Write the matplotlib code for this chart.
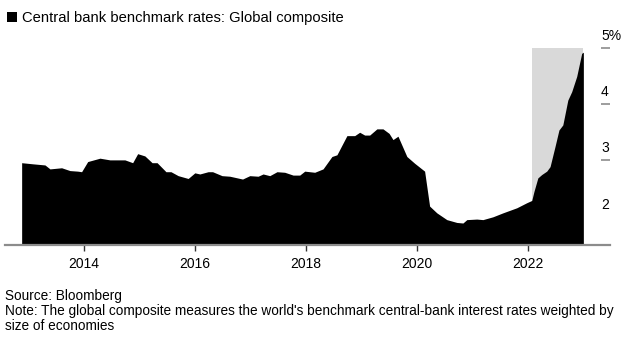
#!/usr/bin/env python
# -*- coding: utf-8 -*-

"""Central bank benchmark rates: Global composite (Bloomberg style area chart)."""

import matplotlib

matplotlib.use("Agg")
import matplotlib.pyplot as plt
from matplotlib.patches import Rectangle

plt.rcParams["font.family"] = ["Liberation Sans", "DejaVu Sans"]

# Decimal years and composite rate (%)
dates = [
    2012.88, 2013.08, 2013.30, 2013.39, 2013.60, 2013.75, 2013.89, 2013.96,
    2014.07, 2014.29, 2014.47, 2014.74, 2014.88, 2014.97, 2015.10, 2015.23,
    2015.32, 2015.48, 2015.57, 2015.70, 2015.88, 2016.00, 2016.09, 2016.24,
    2016.32, 2016.49, 2016.63, 2016.86, 2016.99, 2017.14, 2017.23, 2017.35,
    2017.48, 2017.62, 2017.77, 2017.89, 2017.98, 2018.16, 2018.31, 2018.47,
    2018.56, 2018.74, 2018.88, 2018.97, 2019.06, 2019.15, 2019.28, 2019.39,
    2019.50, 2019.57, 2019.66, 2019.82, 2019.96, 2020.14, 2020.23, 2020.36,
    2020.54, 2020.72, 2020.83, 2020.90, 2021.08, 2021.19, 2021.37, 2021.55,
    2021.80, 2021.98, 2022.07, 2022.11, 2022.18, 2022.25, 2022.34, 2022.40,
    2022.49, 2022.56, 2022.63, 2022.72, 2022.79, 2022.88, 2022.97, 2023.00,
]
rates = [
    2.96, 2.94, 2.92, 2.85, 2.87, 2.82, 2.81, 2.80,
    2.98, 3.04, 3.01, 3.01, 2.96, 3.12, 3.08, 2.96,
    2.96, 2.80, 2.80, 2.73, 2.68, 2.78, 2.76, 2.80,
    2.80, 2.73, 2.72, 2.67, 2.73, 2.72, 2.76, 2.73,
    2.80, 2.79, 2.74, 2.74, 2.81, 2.79, 2.85, 3.07,
    3.10, 3.44, 3.44, 3.50, 3.45, 3.45, 3.56, 3.56,
    3.48, 3.37, 3.43, 3.07, 2.95, 2.81, 2.19, 2.07,
    1.95, 1.90, 1.89, 1.95, 1.96, 1.95, 2.00, 2.07,
    2.16, 2.25, 2.29, 2.45, 2.69, 2.75, 2.81, 2.89,
    3.25, 3.54, 3.63, 4.07, 4.22, 4.49, 4.90, 4.92,
]

# Shaded period (hiking cycle)
shade_start, shade_end = 2022.07, 2023.00
year_ticks = [2014, 2016, 2018, 2020, 2022]
rate_ticks = [2, 3, 4, 5]
rate_labels = ["2", "3", "4", "5%"]

title = "Central bank benchmark rates: Global composite"
source = "Source: Bloomberg"
note_lines = [
    "Note: The global composite measures the world's benchmark central-bank "
    "interest rates weighted by",
    "size of economies",
]

W, H = 629, 339
fig = plt.figure(figsize=(W / 100, H / 100), dpi=100)
ax = fig.add_axes([5 / W, 1 - 245 / H, 605 / W, (245 - 47.7) / H])

ymin, ymax = 1.5, 5.0
ax.set_xlim(2012.58, 2023.48)
ax.set_ylim(ymin, ymax)

ax.add_patch(
    Rectangle(
        (shade_start, ymin), shade_end - shade_start, ymax - ymin,
        facecolor="#d9d9d9", edgecolor="none", zorder=1,
    )
)
ax.fill_between(dates, ymin, rates, color="black", lw=0, zorder=2)

for s in ["top", "right", "left"]:
    ax.spines[s].set_visible(False)
ax.spines["bottom"].set_color("#8c8c8c")
ax.spines["bottom"].set_linewidth(1.6)
ax.spines["bottom"].set_zorder(3)

ax.set_xticks(year_ticks)
ax.set_xticklabels([str(y) for y in year_ticks])
ax.tick_params(axis="x", length=4, width=1, color="#333333",
               labelsize=10, pad=5, labelcolor="black")
ax.set_yticks([])

# right-hand value labels with short tick dashes beneath
trans = ax.get_yaxis_transform()
for v, lab in zip(rate_ticks, rate_labels):
    ax.text(1 - 9 / 605, v + 0.09, lab, transform=trans, ha="left",
            va="bottom", fontsize=10, clip_on=False)
    if v != 2:
        ax.plot([1 - 9 / 605, 1.0], [v, v], transform=trans,
                color="#8c8c8c", lw=1.2, clip_on=False, solid_capstyle="butt")

# title with black legend square
fig.patches.append(
    Rectangle((7.3 / W, 1 - 21.7 / H), 9.6 / W, 10 / H, facecolor="black",
              edgecolor="none", transform=fig.transFigure)
)
fig.text(22.5 / W, 1 - 21.7 / H, title, fontsize=10.6, va="baseline",
         ha="left")

fig.text(5 / W, 1 - 300 / H, source, fontsize=9.8, va="baseline", ha="left")
fig.text(5 / W, 1 - 315.5 / H, note_lines[0], fontsize=9.8, va="baseline",
         ha="left")
fig.text(5 / W, 1 - 330 / H, note_lines[1], fontsize=9.8, va="baseline",
         ha="left")

fig.savefig("out.png", dpi=100)
